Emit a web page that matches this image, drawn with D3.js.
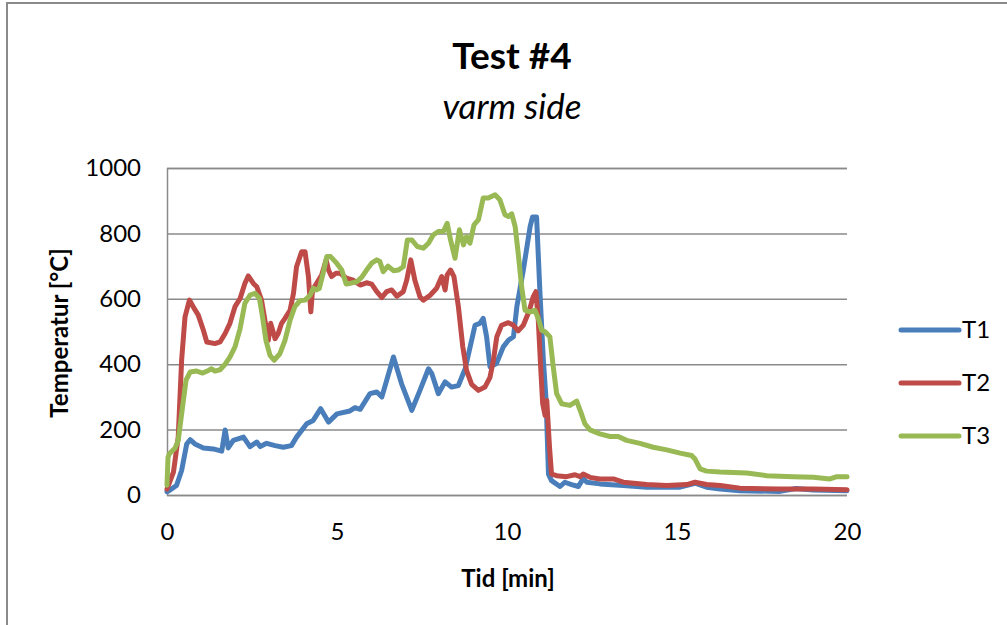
<!DOCTYPE html>
<html>
<head>
<meta charset="utf-8">
<script src="https://cdn.jsdelivr.net/npm/d3@7"></script>
<style>
  body { margin: 0; background: #fff; }
  text { font-family: Lato, "Open Sans", sans-serif; fill: #000; }
</style>
</head>
<body>
<script>
const width = 1007;
const height = 625;

// T1 (blue)
const t1Time = [0, 0.04, 0.28, 0.43, 0.58, 0.68, 0.82, 1.07, 1.36, 1.61, 1.71, 1.8, 1.95, 2.25, 2.44, 2.64, 2.74, 2.93, 3.18, 3.42, 3.66, 3.81, 4.11, 4.3, 4.52, 4.75, 5.0, 5.38, 5.53, 5.68, 5.97, 6.17, 6.32, 6.66, 6.9, 7.2, 7.44, 7.69, 7.79, 7.98, 8.18, 8.37, 8.57, 8.77, 9.06, 9.2, 9.3, 9.4, 9.5, 9.69, 9.89, 10.04, 10.19, 10.29, 10.48, 10.68, 10.75, 10.87, 10.97, 11.07, 11.15, 11.22, 11.31, 11.56, 11.7, 11.9, 12.1, 12.24, 12.35, 12.73, 13.42, 14.11, 15.09, 15.53, 15.87, 16.27, 16.85, 18.03, 18.5, 19, 20];
const t1Temp = [10, 12, 29, 75, 156, 169, 156, 144, 141, 134, 199, 144, 167, 177, 148, 162, 148, 158, 151, 146, 151, 177, 218, 228, 264, 223, 248, 257, 267, 262, 310, 315, 300, 422, 340, 259, 320, 386, 371, 310, 346, 330, 335, 386, 519, 525, 540, 484, 392, 402, 453, 473, 484, 576, 688, 821, 850, 850, 617, 412, 289, 64, 44, 26, 39, 32, 26, 50, 39, 34, 29, 24, 24, 36, 24, 18, 13, 11, 20, 15, 13];

// T2 (red)
const t2Time = [0, 0.19, 0.33, 0.43, 0.53, 0.66, 0.77, 0.92, 1.07, 1.17, 1.41, 1.56, 1.71, 1.85, 2.0, 2.15, 2.29, 2.39, 2.54, 2.64, 2.78, 2.88, 2.98, 3.05, 3.18, 3.27, 3.37, 3.47, 3.62, 3.72, 3.81, 3.96, 4.06, 4.16, 4.23, 4.28, 4.4, 4.55, 4.68, 4.75, 4.84, 4.97, 5.09, 5.28, 5.48, 5.68, 5.87, 6.02, 6.17, 6.32, 6.46, 6.61, 6.76, 6.95, 7.05, 7.17, 7.29, 7.44, 7.54, 7.74, 7.93, 8.08, 8.18, 8.24, 8.34, 8.44, 8.57, 8.7, 8.81, 8.96, 9.16, 9.35, 9.5, 9.6, 9.7, 9.84, 10.04, 10.19, 10.33, 10.48, 10.66, 10.77, 10.85, 10.92, 10.99, 11.05, 11.12, 11.17, 11.25, 11.31, 11.46, 11.75, 12.0, 12.15, 12.24, 12.44, 12.73, 13.13, 13.42, 14.11, 14.7, 15.29, 15.53, 15.87, 16.27, 16.85, 18.03, 19, 20];
const t2Temp = [18, 70, 177, 412, 545, 596, 576, 550, 504, 468, 463, 468, 494, 525, 576, 601, 647, 670, 647, 637, 596, 535, 473, 525, 478, 494, 525, 540, 565, 617, 698, 744, 744, 668, 560, 627, 647, 673, 719, 688, 668, 678, 678, 663, 657, 642, 649, 645, 622, 604, 622, 627, 608, 622, 657, 719, 657, 606, 596, 611, 632, 668, 627, 673, 688, 668, 576, 453, 381, 338, 320, 330, 360, 412, 484, 519, 527, 519, 502, 519, 565, 606, 622, 535, 392, 279, 243, 289, 146, 64, 59, 56, 62, 56, 64, 54, 49, 49, 39, 32, 29, 32, 39, 32, 29, 21, 18, 18, 16];

// T3 (green)
const t3Time = [0, 0.03, 0.07, 0.24, 0.33, 0.43, 0.56, 0.68, 0.87, 1.05, 1.22, 1.31, 1.41, 1.56, 1.71, 1.85, 2.0, 2.15, 2.29, 2.44, 2.59, 2.72, 2.81, 2.91, 3.03, 3.15, 3.32, 3.47, 3.62, 3.76, 3.91, 4.06, 4.21, 4.3, 4.4, 4.48, 4.58, 4.7, 4.81, 4.99, 5.14, 5.27, 5.38, 5.58, 5.73, 5.87, 6.02, 6.17, 6.26, 6.36, 6.5, 6.66, 6.8, 6.95, 7.07, 7.2, 7.36, 7.54, 7.69, 7.83, 7.98, 8.13, 8.24, 8.34, 8.47, 8.6, 8.72, 8.81, 8.91, 9.03, 9.16, 9.3, 9.45, 9.65, 9.79, 9.94, 10.04, 10.14, 10.24, 10.33, 10.43, 10.53, 10.68, 10.82, 10.92, 11.02, 11.12, 11.26, 11.36, 11.46, 11.61, 11.85, 12.05, 12.19, 12.29, 12.44, 12.73, 13.03, 13.27, 13.52, 13.91, 14.3, 14.7, 15.09, 15.43, 15.53, 15.68, 15.87, 16.27, 17.05, 17.64, 18.42, 19.01, 19.5, 19.7, 20];
const t3Temp = [30, 115, 126, 144, 167, 248, 351, 376, 379, 373, 381, 386, 379, 383, 400, 422, 453, 509, 586, 611, 617, 601, 545, 473, 427, 412, 432, 473, 535, 576, 594, 596, 611, 632, 627, 632, 673, 729, 729, 709, 688, 645, 647, 652, 666, 688, 709, 719, 714, 683, 700, 686, 688, 698, 780, 780, 760, 755, 770, 795, 806, 806, 831, 780, 724, 811, 765, 790, 770, 826, 842, 908, 908, 918, 903, 857, 852, 860, 821, 739, 637, 565, 560, 565, 540, 504, 499, 484, 392, 310, 279, 274, 287, 248, 218, 199, 187, 179, 179, 167, 158, 146, 138, 128, 121, 110, 80, 73, 70, 67, 59, 56, 54, 49, 56, 56];

const seriesNames = ["T1", "T2", "T3"];
const seriesColors = ["#4a7ebb", "#be4b48", "#98b954"];
const xTicks = [0, 5, 10, 15, 20];
const yTicks = [0, 200, 400, 600, 800, 1000];

const series = [
  { name: seriesNames[0], color: seriesColors[0], values: t1Time.map((t, i) => ({ t: t, v: t1Temp[i] })) },
  { name: seriesNames[1], color: seriesColors[1], values: t2Time.map((t, i) => ({ t: t, v: t2Temp[i] })) },
  { name: seriesNames[2], color: seriesColors[2], values: t3Time.map((t, i) => ({ t: t, v: t3Temp[i] })) },
];

const x = d3.scaleLinear().domain([0, 20]).range([167, 847]);
const y = d3.scaleLinear().domain([0, 1000]).range([495, 168]);

const svg = d3
  .select("body")
  .append("svg")
  .attr("width", width)
  .attr("height", height);

// outer chart frame
svg
  .append("rect")
  .attr("x", 7)
  .attr("y", 3)
  .attr("width", width + 20)
  .attr("height", height + 20)
  .attr("fill", "#fff")
  .attr("stroke", "#8a8a8a")
  .attr("stroke-width", 2);

// titles
svg
  .append("text")
  .attr("x", 512)
  .attr("y", 69)
  .attr("text-anchor", "middle")
  .style("font-size", "37px")
  .style("font-weight", "bold")
  .text("Test #4");

svg
  .append("text")
  .attr("x", 512)
  .attr("y", 119)
  .attr("text-anchor", "middle")
  .style("font-size", "35px")
  .style("font-style", "italic")
  .text("varm side");

// gridlines
const yAxis = d3
  .axisLeft(y)
  .tickValues(yTicks)
  .tickSize(-(x.range()[1] - x.range()[0]))
  .tickPadding(26)
  .tickFormat(d3.format("d"));

const gy = svg.append("g").attr("transform", `translate(${x(0)},0)`).call(yAxis);
gy.select(".domain").attr("stroke", "#8a8a8a").attr("stroke-width", 1.5);
gy.selectAll(".tick line").attr("stroke", "#8a8a8a").attr("stroke-width", 1.5);
gy.selectAll(".tick text").style("font-size", "24px").style("font-family", "Lato, sans-serif").attr("fill", "#000");

const xAxis = d3
  .axisBottom(x)
  .tickValues(xTicks)
  .tickSize(0)
  .tickPadding(28);

const gx = svg.append("g").attr("transform", `translate(0,${y(0)})`).call(xAxis);
gx.select(".domain").remove();
gx.selectAll(".tick text").style("font-size", "24px").style("font-family", "Lato, sans-serif").attr("fill", "#000");

// axis titles
svg
  .append("text")
  .attr("x", 508)
  .attr("y", 587)
  .attr("text-anchor", "middle")
  .style("font-size", "24px")
  .style("font-weight", "bold")
  .text("Tid [min]");

svg
  .append("text")
  .attr("transform", "translate(68,333) rotate(-90)")
  .attr("text-anchor", "middle")
  .style("font-size", "24px")
  .style("font-weight", "bold")
  .text("Temperatur [°C]");

// lines
const line = d3
  .line()
  .x((d) => x(d.t))
  .y((d) => y(d.v));

svg
  .append("g")
  .selectAll("path")
  .data(series)
  .enter()
  .append("path")
  .attr("d", (d) => line(d.values))
  .attr("fill", "none")
  .attr("stroke", (d) => d.color)
  .attr("stroke-width", 5)
  .attr("stroke-linejoin", "round")
  .attr("stroke-linecap", "round");

// legend
const legend = svg
  .append("g")
  .selectAll("g")
  .data(series)
  .enter()
  .append("g")
  .attr("transform", (d, i) => `translate(901,${330 + i * 53})`);

legend
  .append("line")
  .attr("x1", 0)
  .attr("x2", 58)
  .attr("stroke", (d) => d.color)
  .attr("stroke-width", 5)
  .attr("stroke-linecap", "round");

legend
  .append("text")
  .attr("x", 61)
  .attr("dy", "0.35em")
  .style("font-size", "24px")
  .text((d) => d.name);
</script>
</body>
</html>
